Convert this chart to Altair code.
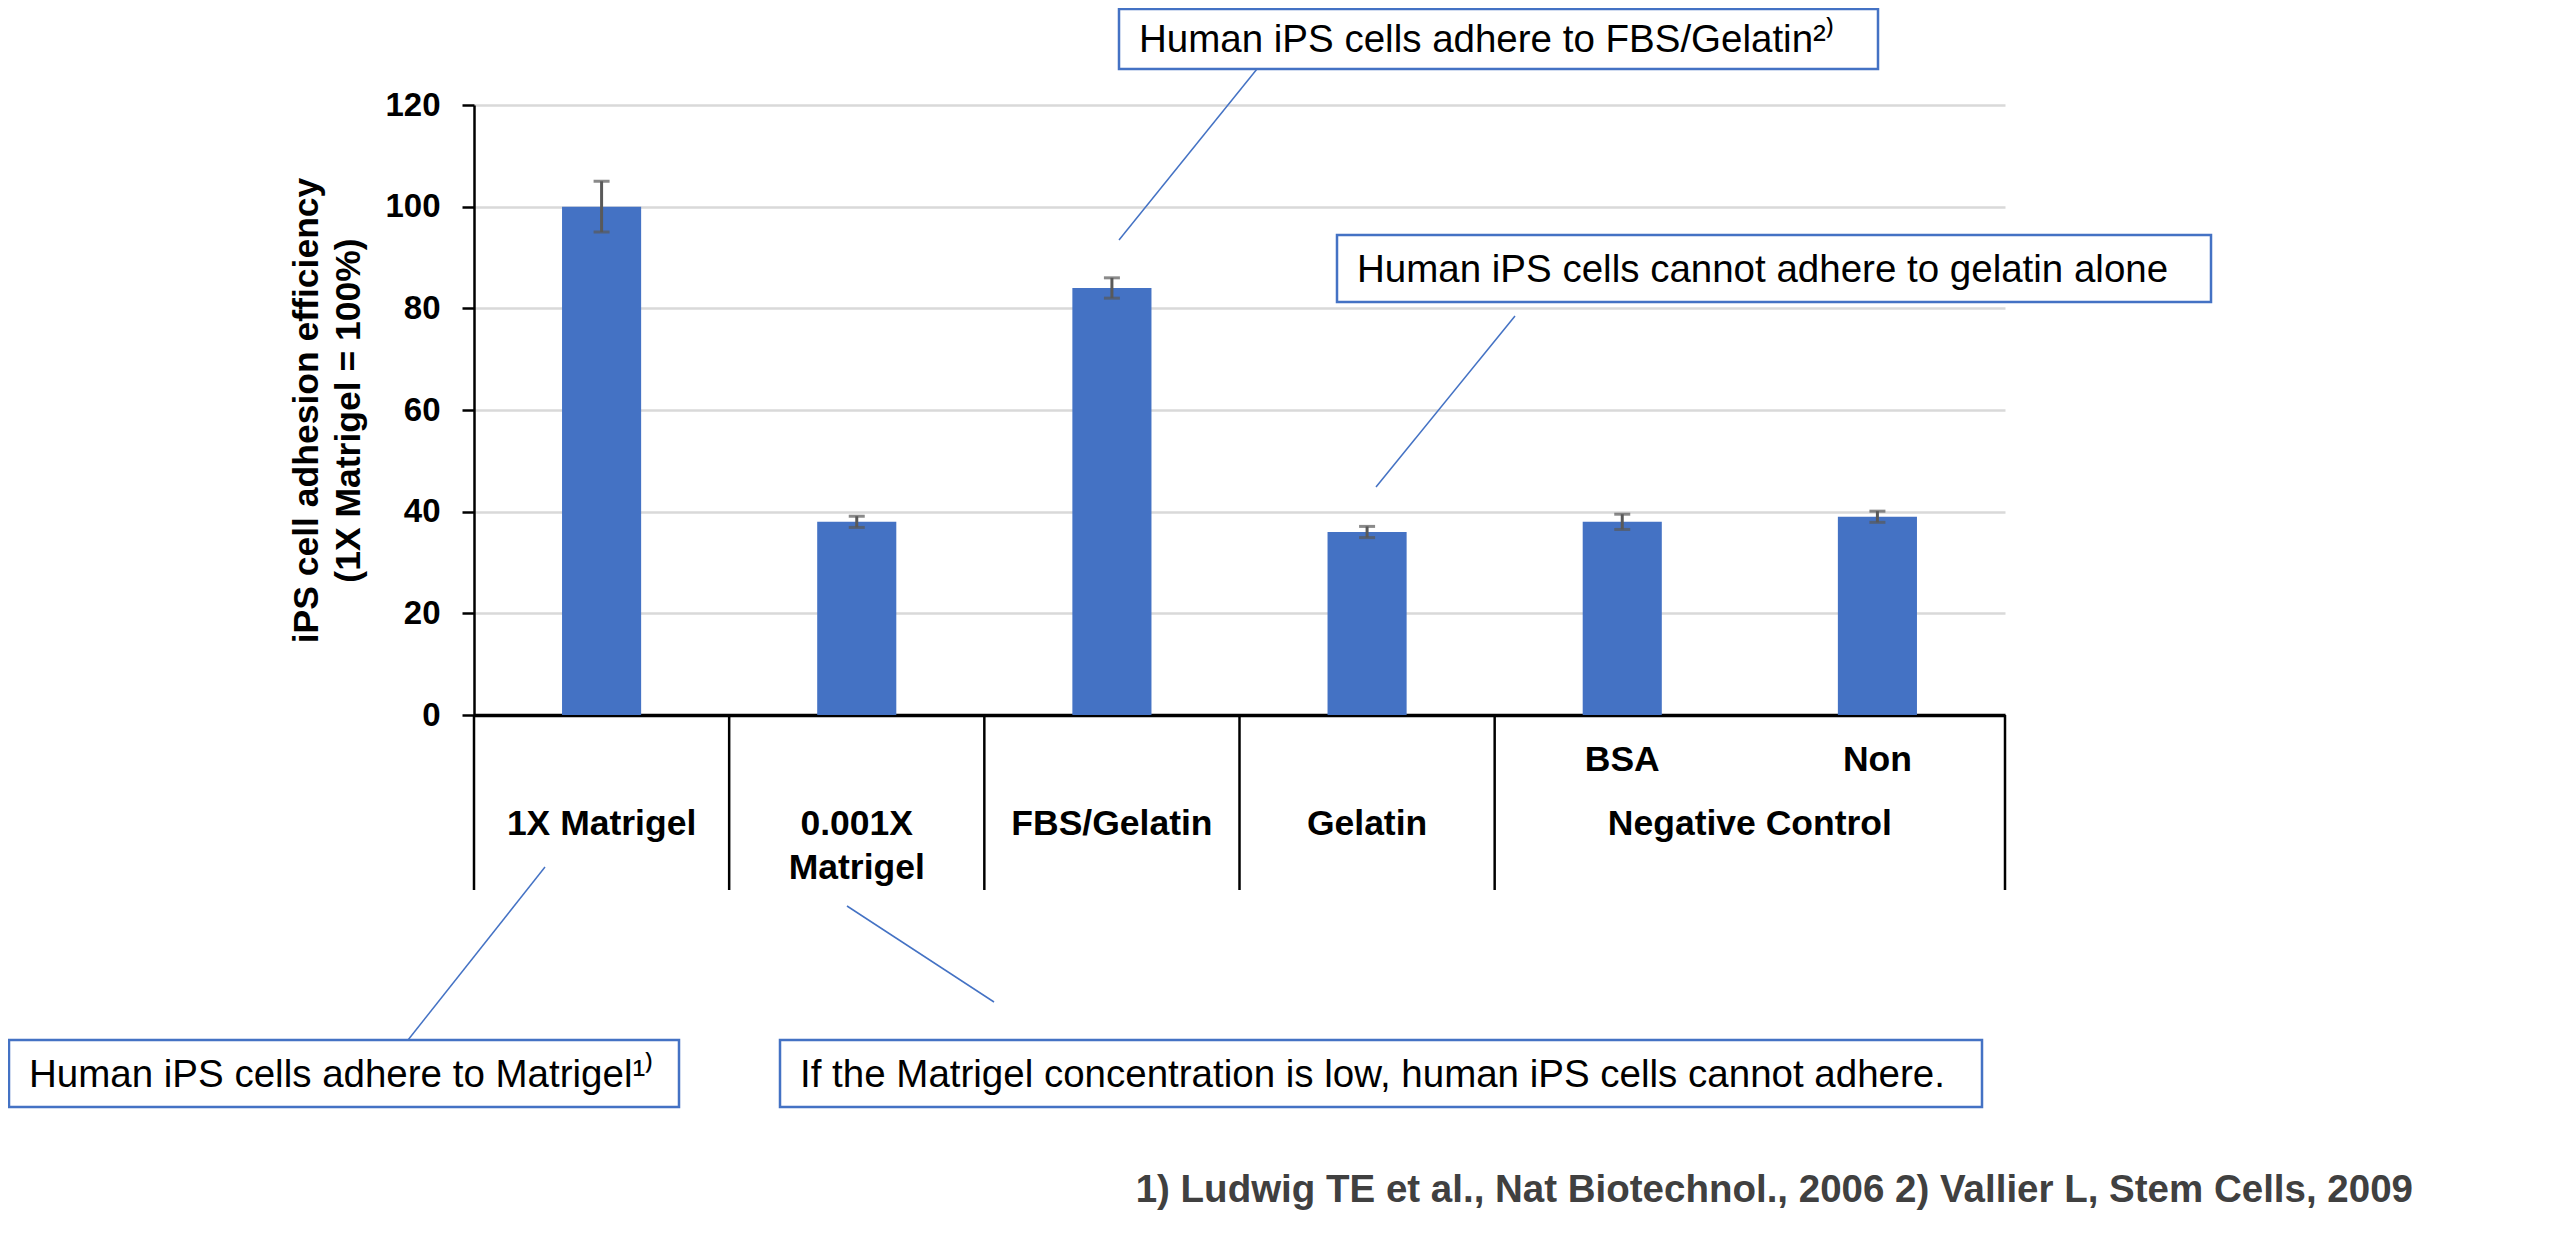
import altair as alt
import pandas as pd

# ---- data ----
categories = ["1X Matrigel", "0.001X Matrigel", "FBS/Gelatin", "Gelatin", "BSA", "Non"]
values = [100, 38, 84, 36, 38, 39]
errors = [5, 1.1, 2, 1.1, 1.5, 1.1]
label_line1 = ["1X Matrigel", "0.001X", "FBS/Gelatin", "Gelatin", "", ""]
label_line2 = ["", "Matrigel", "", "", "", ""]
label_top = ["", "", "", "", "BSA", "Non"]
group_label = "Negative Control"
group_anchor = "BSA"
separator_cats = ["1X Matrigel", "0.001X Matrigel", "FBS/Gelatin", "Gelatin", "BSA"]
separator_end = "Non"
y_ticks = [0, 20, 40, 60, 80, 100, 120]
y_title = ["iPS cell adhesion efficiency", "(1X Matrigel = 100%)"]
notes = [
    "Human iPS cells adhere to FBS/Gelatin\u00b2\u207e",
    "Human iPS cells cannot adhere to gelatin alone",
    "Human iPS cells adhere to Matrigel\u00b9\u207e",
    "If the Matrigel concentration is low, human iPS cells cannot adhere.",
]
footer = "1) Ludwig TE et al., Nat Biotechnol., 2006 2) Vallier L, Stem Cells, 2009"

# ---- styling ----
FONT = "Liberation Sans"
BLUE = "#4472C4"
W, H = 1531, 610
STEP = W / len(categories)

df = pd.DataFrame({"cat": categories, "val": values, "err": errors})
df["lo"] = df["val"] - df["err"]
df["hi"] = df["val"] + df["err"]
lab = pd.DataFrame({"cat": categories, "l1": label_line1, "l2": label_line2, "top": label_top})

bar_scale = alt.Scale(domain=categories, paddingInner=0.69, paddingOuter=0.345)
cell_scale = alt.Scale(domain=categories, paddingInner=0, paddingOuter=0)

yaxis = alt.Axis(
    values=y_ticks, labelFont=FONT, labelFontWeight="bold", labelFontSize=33,
    labelColor="black", labelPadding=22, tickSize=12, tickColor="black", tickWidth=2.5,
    domainColor="black", domainWidth=2.5, gridColor="#d9d9d9", gridWidth=2.5,
    title=y_title, titleFont=FONT, titleFontWeight="bold", titleFontSize=35.5,
    titleColor="black", titlePadding=18, titleLineHeight=42,
)
xaxis = alt.Axis(labels=False, ticks=False, domain=True, domainColor="black",
                 domainWidth=3.5, title=None, grid=False)

base = alt.Chart(df)
bars = base.mark_bar(color=BLUE).encode(
    x=alt.X("cat:N", scale=bar_scale, axis=xaxis, sort=categories),
    y=alt.Y("val:Q", scale=alt.Scale(domain=[0, 120], nice=False), axis=yaxis),
)
err_line = base.mark_rule(color="#595959", strokeWidth=3).encode(
    x=alt.X("cat:N", scale=bar_scale, axis=None, sort=categories),
    y="lo:Q", y2="hi:Q",
)
err_lo = base.mark_tick(color="#595959", thickness=3, size=16).encode(
    x=alt.X("cat:N", scale=bar_scale, axis=None, sort=categories), y="lo:Q")
err_hi = base.mark_tick(color="#595959", thickness=3, size=16).encode(
    x=alt.X("cat:N", scale=bar_scale, axis=None, sort=categories), y="hi:Q")

sep_df = pd.DataFrame({"cat": separator_cats})
seps = alt.Chart(sep_df).mark_rule(color="black", strokeWidth=2.5).encode(
    x=alt.X("cat:N", scale=cell_scale, axis=None, sort=categories, bandPosition=0),
    y=alt.value(H), y2=alt.value(H + 175),
)
sep_end = alt.Chart(pd.DataFrame({"cat": [separator_end]})).mark_rule(
    color="black", strokeWidth=2.5).encode(
    x=alt.X("cat:N", scale=cell_scale, axis=None, sort=categories, bandPosition=1),
    y=alt.value(H), y2=alt.value(H + 175),
)

def cat_text(field, yv):
    return alt.Chart(lab).mark_text(
        font=FONT, fontWeight="bold", fontSize=35.5, color="black", baseline="middle"
    ).encode(
        x=alt.X("cat:N", scale=cell_scale, axis=None, sort=categories),
        y=alt.value(yv), text=f"{field}:N",
    )

t1 = cat_text("l1", 719)
t2 = cat_text("l2", 763)
t3 = cat_text("top", 655)
grp = alt.Chart(pd.DataFrame({"cat": [group_anchor], "t": [group_label]})).mark_text(
    font=FONT, fontWeight="bold", fontSize=35.5, color="black", baseline="middle",
    dx=STEP / 2,
).encode(
    x=alt.X("cat:N", scale=cell_scale, axis=None, sort=categories),
    y=alt.value(719), text="t:N",
)

# annotation boxes: (box left, right, top, bottom), leader (x1, y1, x2, y2)
boxes = [
    ((645, 1404, -96, -36), (783, -36, 645, 135)),
    ((863, 1737, 130, 197), (1041, 211, 902, 382)),
    ((-465, 205, 935, 1002), (71, 762, -66, 935)),
    ((306, 1508, 935, 1002), (373, 801, 520, 897)),
]
ann_layers = []
for text, ((bx0, bx1, by0, by1), (lx1, ly1, lx2, ly2)) in zip(notes, boxes):
    d = pd.DataFrame({"t": [text]})
    leader = alt.Chart(d).mark_rule(color=BLUE, strokeWidth=1.5).encode(
        x=alt.value(lx1), y=alt.value(ly1), x2=alt.value(lx2), y2=alt.value(ly2))
    box = alt.Chart(d).mark_rect(fill="white", stroke=BLUE, strokeWidth=2.5).encode(
        x=alt.value(bx0), x2=alt.value(bx1), y=alt.value(by0), y2=alt.value(by1))
    txt = alt.Chart(d).mark_text(
        font=FONT, fontSize=38.5, color="black", align="left", baseline="middle"
    ).encode(x=alt.value(bx0 + 20), y=alt.value((by0 + by1) / 2 + 1), text="t:N")
    ann_layers += [leader, box, txt]

foot = alt.Chart(pd.DataFrame({"t": [footer]})).mark_text(
    font=FONT, fontWeight="bold", fontSize=38.5, color="#404040", align="right",
    baseline="middle"
).encode(x=alt.value(1939), y=alt.value(1085), text="t:N")

chart = alt.layer(
    bars, err_line, err_lo, err_hi, seps, sep_end, t1, t2, t3, grp, *ann_layers, foot
).resolve_scale(x="independent").properties(
    width=W, height=H,
    autosize=alt.AutoSizeParams(type="none"),
    padding={"left": 466, "top": 97, "right": 535, "bottom": 510},
).configure(background="white", view=alt.ViewConfig(stroke=None))

chart.save("out.html", embed_options={"renderer": "svg", "actions": False})
